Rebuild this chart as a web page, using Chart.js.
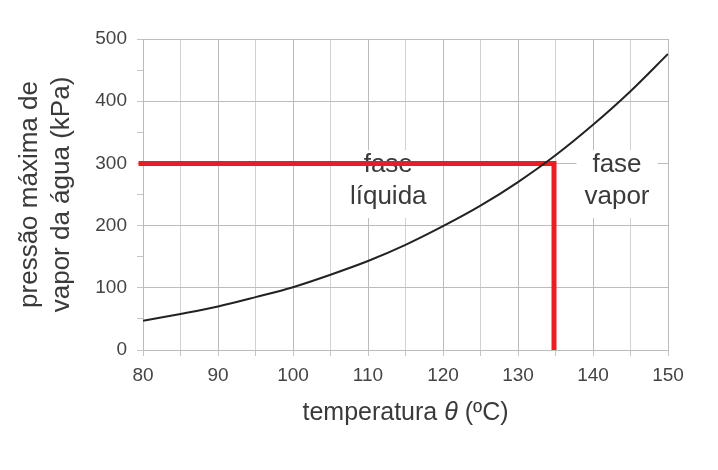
<!DOCTYPE html>
<html>
<head>
<meta charset="utf-8">
<script src="https://cdn.jsdelivr.net/npm/chart.js@4.4.1/dist/chart.umd.min.js"></script>
<style>
  html, body { margin: 0; padding: 0; background: #fff; }
  #wrap { width: 718px; height: 470px; }
</style>
</head>
<body>
<div id="wrap"><canvas id="myChart" width="718" height="470"></canvas></div>
<script>
// curva de pressão máxima de vapor da água
const temperaturas = [80, 85, 90, 95, 100, 105, 110, 115, 120, 125, 130, 135, 140, 145, 150];
const pressoes = [47, 58, 70, 85, 101, 121, 143, 169, 199, 232, 270, 313, 362, 416, 476];

// linha vermelha de leitura (300 kPa -> ~134.8 °C)
const leituraX = [79.4, 134.8, 134.8];
const leituraY = [300, 300, 0];

// rótulos das regiões
const rotulos = [
  { linhas: ['fase', 'líquida'], x: 112.7, y: [297, 246] },
  { linhas: ['fase', 'vapor'], x: 143.2, y: [297, 246] }
];

// título do eixo x, com o θ em itálico
const tituloX = [
  { texto: 'temperatura ', italico: false },
  { texto: 'θ', italico: true },
  { texto: ' (ºC)', italico: false }
];

const ctx = document.getElementById('myChart').getContext('2d');
const fonte = 'Liberation Sans, Arial, sans-serif';
const corTexto = '#3a3a3a';

const curva = temperaturas.map((t, i) => ({ x: t, y: pressoes[i] }));
const leitura = leituraX.map((t, i) => ({ x: t, y: leituraY[i] }));

// caixas brancas com o texto, desenhadas por baixo das linhas
const rotulosPlugin = {
  id: 'rotulos',
  beforeDatasetsDraw(chart) {
    const c = chart.ctx;
    const xs = chart.scales.x, ys = chart.scales.y;
    c.save();
    c.font = '26px ' + fonte;
    c.textAlign = 'center';
    c.textBaseline = 'middle';
    rotulos.forEach(r => {
      const cx = xs.getPixelForValue(r.x);
      const y1 = ys.getPixelForValue(r.y[0]);
      const y2 = ys.getPixelForValue(r.y[1]);
      let w = 0;
      r.linhas.forEach(l => { w = Math.max(w, c.measureText(l).width); });
      c.fillStyle = '#fff';
      c.fillRect(cx - w / 2 - 8, y1 - 15, w + 16, (y2 - y1) + 36);
      c.fillStyle = corTexto;
      c.fillText(r.linhas[0], cx, y1);
      c.fillText(r.linhas[1], cx, y2);
    });
    c.restore();
  },
  afterDraw(chart) {
    const c = chart.ctx;
    const a = chart.chartArea;
    c.save();
    c.textBaseline = 'middle';
    c.textAlign = 'left';
    c.fillStyle = corTexto;
    const fontes = tituloX.map(p => (p.italico ? 'italic ' : '') + '25px ' + fonte);
    let total = 0;
    tituloX.forEach((p, i) => { c.font = fontes[i]; total += c.measureText(p.texto).width; });
    let x = (a.left + a.right) / 2 - total / 2;
    const y = a.bottom + 63;
    tituloX.forEach((p, i) => {
      c.font = fontes[i];
      c.fillText(p.texto, x, y);
      x += c.measureText(p.texto).width;
    });
    c.restore();
  }
};

new Chart(ctx, {
  type: 'scatter',
  data: {
    datasets: [
      {
        data: curva,
        showLine: true,
        borderColor: '#222',
        borderWidth: 2,
        pointRadius: 0,
        cubicInterpolationMode: 'monotone',
        fill: false
      },
      {
        data: leitura,
        showLine: true,
        borderColor: '#ec1c24',
        borderWidth: 5,
        pointRadius: 0,
        borderJoinStyle: 'miter',
        fill: false,
        clip: 10
      }
    ]
  },
  options: {
    responsive: false,
    animation: false,
    layout: { padding: { left: 0, right: 50, top: 39, bottom: 0 } },
    plugins: {
      legend: { display: false },
      tooltip: { enabled: false }
    },
    scales: {
      x: {
        type: 'linear',
        min: 80,
        max: 150,
        afterFit: s => { s.height = 120; },
        ticks: {
          stepSize: 5,
          autoSkip: false,
          maxRotation: 0,
          padding: 8,
          color: '#444',
          font: { size: 19, family: fonte },
          callback: v => (v % 10 === 0 ? v : '')
        },
        grid: {
          color: c => (c.tick && c.tick.value % 10 === 0 ? '#bcbcbc' : '#d2d2d2'),
          tickColor: '#c4c4c4',
          tickLength: 6
        },
        border: { color: '#bcbcbc' },
        title: { display: false }
      },
      y: {
        min: 0,
        max: 500,
        afterFit: s => { s.width = 143; },
        ticks: {
          stepSize: 50,
          autoSkip: false,
          padding: 10,
          color: '#444',
          font: { size: 19, family: fonte },
          callback: v => (v % 100 === 0 ? v : '')
        },
        grid: {
          color: c => (c.tick && c.tick.value % 100 === 0 ? '#bcbcbc' : 'rgba(0,0,0,0)'),
          tickColor: '#c4c4c4',
          tickLength: 6
        },
        border: { color: '#bcbcbc' },
        title: {
          display: true,
          text: ['pressão máxima de', 'vapor da água (kPa)'],
          color: corTexto,
          font: { size: 26, family: fonte, lineHeight: 1.23 },
          padding: { top: 14, bottom: 0 }
        }
      }
    }
  },
  plugins: [rotulosPlugin]
});
</script>
</body>
</html>
